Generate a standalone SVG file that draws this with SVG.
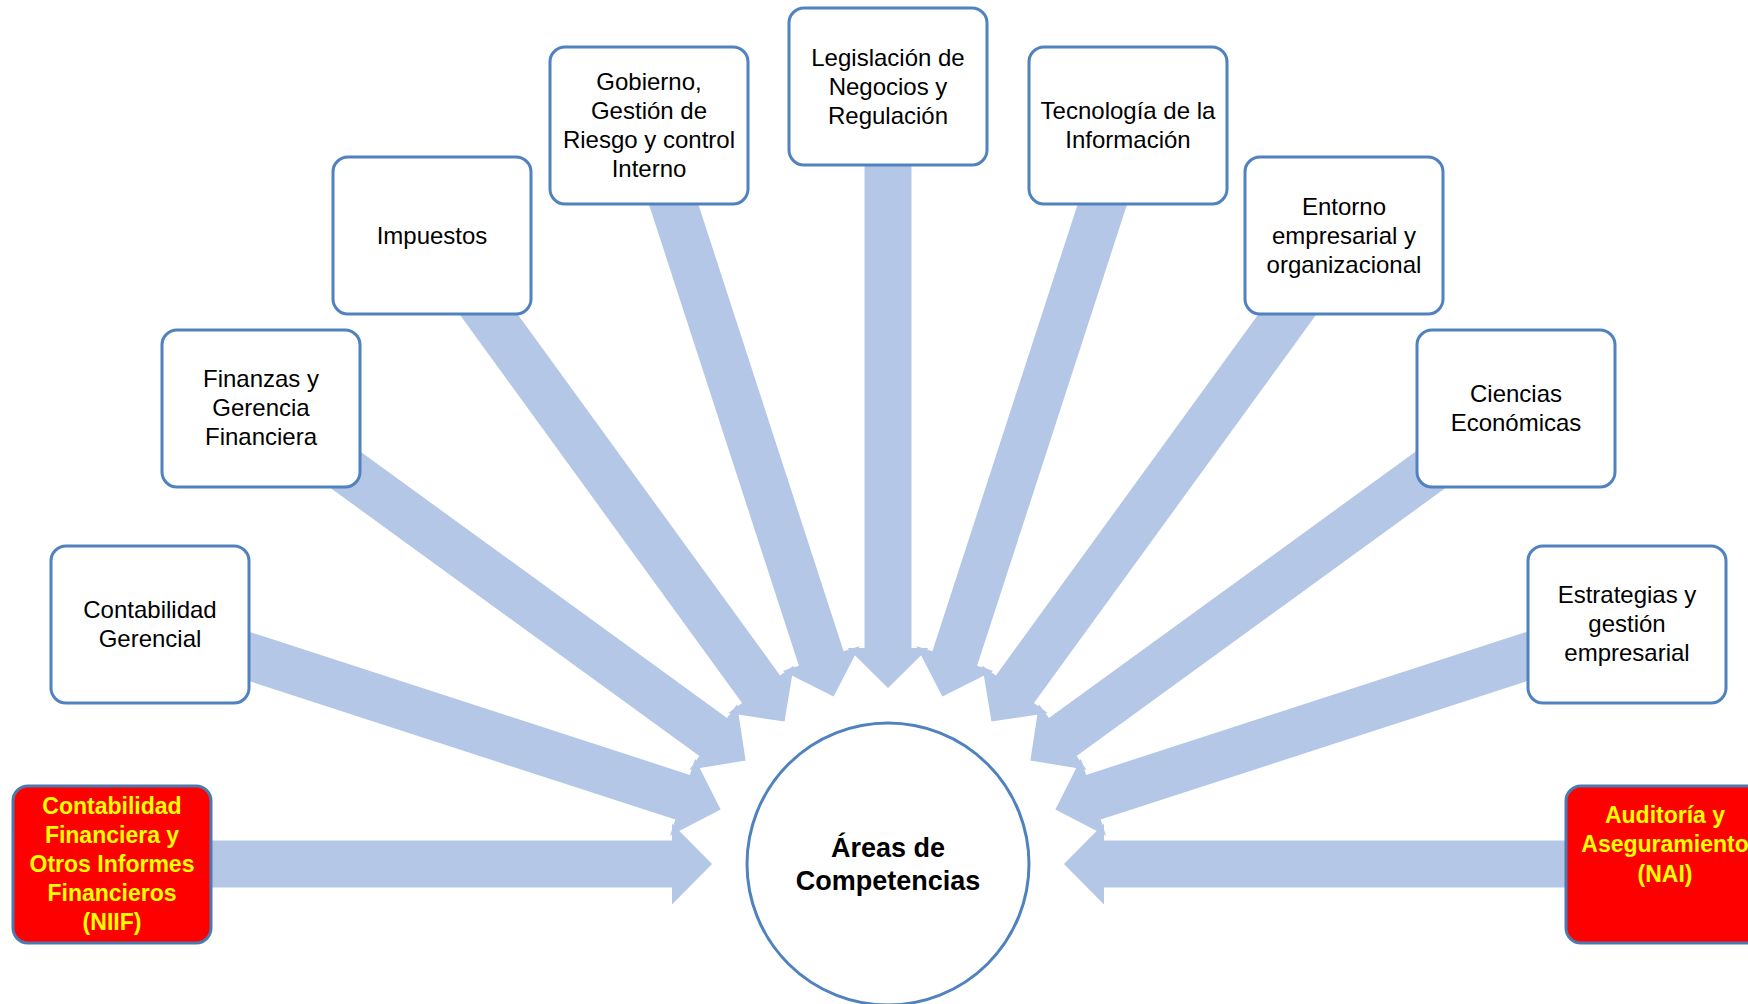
<svg xmlns="http://www.w3.org/2000/svg" xmlns:xlink="http://www.w3.org/1999/xlink" width="1748" height="1004" viewBox="0 0 1748 1004">
<style>
.box{fill:#FFFFFF;stroke:#4F82BE;stroke-width:3}
.red{fill:#FF0000;stroke:#4A7AB0;stroke-width:3}
.t{font-family:"Liberation Sans",Arial,sans-serif;font-size:24px;fill:#000000;text-anchor:middle}
.ty{font-family:"Liberation Sans",Arial,sans-serif;font-size:23px;font-weight:bold;fill:#FFFF00;text-anchor:middle}
.tc{font-family:"Liberation Sans",Arial,sans-serif;font-size:27px;font-weight:bold;fill:#000000;text-anchor:middle}
.arrow{fill:#B4C7E7}
</style>
<defs>
<polygon id="arr" points="-776,-23.5 -216,-23.5 -216,-40.5 -176,0 -216,40.5 -216,23.5 -776,23.5"/>
</defs>
<rect width="1748" height="1004" fill="#FFFFFF"/>
<g id="connectors" class="arrow">
<use xlink:href="#arr" href="#arr" transform="translate(888,864) rotate(0)"/>
<use xlink:href="#arr" href="#arr" transform="translate(888,864) rotate(18)"/>
<use xlink:href="#arr" href="#arr" transform="translate(888,864) rotate(36)"/>
<use xlink:href="#arr" href="#arr" transform="translate(888,864) rotate(54)"/>
<use xlink:href="#arr" href="#arr" transform="translate(888,864) rotate(72)"/>
<use xlink:href="#arr" href="#arr" transform="translate(888,864) rotate(90)"/>
<use xlink:href="#arr" href="#arr" transform="translate(888,864) rotate(108)"/>
<use xlink:href="#arr" href="#arr" transform="translate(888,864) rotate(126)"/>
<use xlink:href="#arr" href="#arr" transform="translate(888,864) rotate(144)"/>
<use xlink:href="#arr" href="#arr" transform="translate(888,864) rotate(162)"/>
<use xlink:href="#arr" href="#arr" transform="translate(888,864) rotate(180)"/>
</g>
<g id="center">
<circle cx="888" cy="864" r="141" fill="#FFFFFF" stroke="#4F82BE" stroke-width="3"/>
<text class="tc" x="888" y="857">Áreas de</text>
<text class="tc" x="888" y="890">Competencias</text>
</g>
<g id="niif">
<rect class="red" x="13" y="786" width="198" height="157" rx="15"/>
<text class="ty" x="112" y="814">Contabilidad</text>
<text class="ty" x="112" y="843">Financiera y</text>
<text class="ty" x="112" y="872">Otros Informes</text>
<text class="ty" x="112" y="901">Financieros</text>
<text class="ty" x="112" y="930">(NIIF)</text>
</g>
<g id="contabilidad-gerencial">
<rect class="box" x="51" y="546" width="198" height="157" rx="15"/>
<text class="t" x="150" y="618">Contabilidad</text>
<text class="t" x="150" y="647">Gerencial</text>
</g>
<g id="finanzas">
<rect class="box" x="162" y="330" width="198" height="157" rx="15"/>
<text class="t" x="261" y="387">Finanzas y</text>
<text class="t" x="261" y="416">Gerencia</text>
<text class="t" x="261" y="445">Financiera</text>
</g>
<g id="impuestos">
<rect class="box" x="333" y="157" width="198" height="157" rx="15"/>
<text class="t" x="432" y="244">Impuestos</text>
</g>
<g id="gobierno">
<rect class="box" x="550" y="47" width="198" height="157" rx="15"/>
<text class="t" x="649" y="90">Gobierno,</text>
<text class="t" x="649" y="119">Gestión de</text>
<text class="t" x="649" y="148">Riesgo y control</text>
<text class="t" x="649" y="177">Interno</text>
</g>
<g id="legislacion">
<rect class="box" x="789" y="8" width="198" height="157" rx="15"/>
<text class="t" x="888" y="66">Legislación de</text>
<text class="t" x="888" y="95">Negocios y</text>
<text class="t" x="888" y="124">Regulación</text>
</g>
<g id="tecnologia">
<rect class="box" x="1029" y="47" width="198" height="157" rx="15"/>
<text class="t" x="1128" y="119">Tecnología de la</text>
<text class="t" x="1128" y="148">Información</text>
</g>
<g id="entorno">
<rect class="box" x="1245" y="157" width="198" height="157" rx="15"/>
<text class="t" x="1344" y="215">Entorno</text>
<text class="t" x="1344" y="244">empresarial y</text>
<text class="t" x="1344" y="273">organizacional</text>
</g>
<g id="ciencias">
<rect class="box" x="1417" y="330" width="198" height="157" rx="15"/>
<text class="t" x="1516" y="402">Ciencias</text>
<text class="t" x="1516" y="431">Económicas</text>
</g>
<g id="estrategias">
<rect class="box" x="1528" y="546" width="198" height="157" rx="15"/>
<text class="t" x="1627" y="603">Estrategias y</text>
<text class="t" x="1627" y="632">gestión</text>
<text class="t" x="1627" y="661">empresarial</text>
</g>
<g id="nai">
<rect class="red" x="1566" y="786" width="198" height="157" rx="15"/>
<text class="ty" x="1665" y="823">Auditoría y</text>
<text class="ty" x="1665" y="852">Aseguramiento</text>
<text class="ty" x="1665" y="882">(NAI)</text>
</g>
</svg>
